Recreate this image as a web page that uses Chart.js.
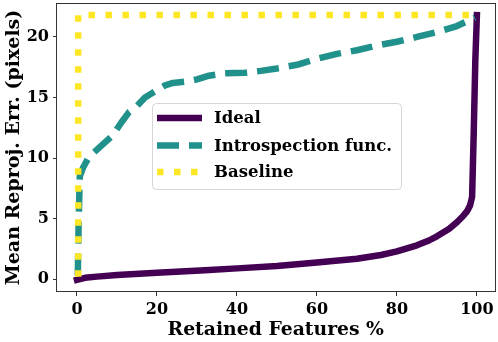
<!DOCTYPE html>
<html>
<head>
<meta charset="utf-8">
<script src="https://cdn.jsdelivr.net/npm/chart.js@4/dist/chart.umd.min.js"></script>
<style>
  html, body { margin: 0; padding: 0; background: #fff; }
  #wrap { width: 498px; height: 342px; position: relative; }
</style>
</head>
<body>
<div id="wrap"><canvas id="c" width="498" height="342"></canvas></div>
<script>
// ---- data ----
const seriesNames = ["Ideal", "Introspection func.", "Baseline"];

const idealX = [0, 2, 5, 10, 20, 32, 40, 50, 60, 70, 76, 80, 85, 88, 90, 93, 95, 96.5, 97.5, 98.3, 98.8, 99.2, 99.6, 100];
const idealY = [-0.05, 0.12, 0.22, 0.35, 0.53, 0.75, 0.9, 1.1, 1.38, 1.7, 2.0, 2.3, 2.8, 3.2, 3.55, 4.15, 4.7, 5.2, 5.6, 6.1, 6.8, 12.0, 18.0, 21.8];

const introX = [0.2, 0.4, 0.7, 1.5, 3, 5, 7, 9, 11, 13, 15, 17, 20, 22, 24, 27, 30, 33, 37, 42, 46, 50, 55, 60, 65, 70, 75, 80, 85, 90, 95, 99.5];
const introY = [0.3, 4.5, 8.5, 9.2, 10.1, 10.7, 11.3, 11.9, 12.9, 13.8, 14.3, 15.0, 15.6, 16.0, 16.2, 16.3, 16.5, 16.8, 17.0, 17.05, 17.2, 17.4, 17.7, 18.2, 18.6, 18.9, 19.3, 19.6, 20.0, 20.4, 20.9, 21.6];

const baselineX = [0.3, 0.3, 100];
const baselineY = [0.2, 21.8, 21.8];

const xTicks = [0, 20, 40, 60, 80, 100];
const yTicks = [0, 5, 10, 15, 20];
const xTitle = "Retained Features %";
const yTitle = "Mean Reproj. Err. (pixels)";

// ---- styling ----
const FONT = "'DejaVu Serif'";
const colors = ["#440154", "#21918c", "#fde725"];
const dashes = [[], [22, 10], [6.5, 10.5]];
const widths = [6.5, 6.5, 6.5];
const caps = ["square", "butt", "butt"];

function pts(xs, ys) { return xs.map((x, i) => ({ x: x, y: ys[i] })); }

const datasets = [
  { label: seriesNames[0], data: pts(idealX, idealY), order: 2 },
  { label: seriesNames[1], data: pts(introX, introY), order: 1 },
  { label: seriesNames[2], data: pts(baselineX, baselineY), order: 0 }
].map((d, i) => Object.assign(d, {
  borderColor: colors[i],
  backgroundColor: colors[i],
  borderWidth: widths[i],
  borderDash: dashes[i],
  borderCapStyle: caps[i],
  borderJoinStyle: "round",
  pointRadius: 0,
  tension: 0,
  fill: false
}));

const framePlugin = {
  id: "frame",
  afterDatasetsDraw(chart) {
    const { ctx, chartArea: a } = chart;
    ctx.save();
    ctx.strokeStyle = "#333";
    ctx.lineWidth = 1;
    ctx.strokeRect(Math.round(a.left) - 0.5, Math.round(a.top) + 0.5,
                   Math.round(a.right - a.left) + 1, Math.round(a.bottom - a.top) - 1);
    ctx.restore();
  }
};

const legendPlugin = {
  id: "insideLegend",
  afterDatasetsDraw(chart) {
    const ctx = chart.ctx;
    const bx = 152.5, by = 103.5, bw = 249, bh = 86, r = 4;
    ctx.save();
    ctx.beginPath();
    ctx.moveTo(bx + r, by);
    ctx.arcTo(bx + bw, by, bx + bw, by + bh, r);
    ctx.arcTo(bx + bw, by + bh, bx, by + bh, r);
    ctx.arcTo(bx, by + bh, bx, by, r);
    ctx.arcTo(bx, by, bx + bw, by, r);
    ctx.closePath();
    ctx.fillStyle = "rgba(255,255,255,0.8)";
    ctx.fill();
    ctx.strokeStyle = "rgba(204,204,204,0.8)";
    ctx.lineWidth = 1;
    ctx.stroke();
    const rows = [118, 145.5, 172];
    chart.data.datasets.forEach((ds, i) => {
      const y = rows[i];
      ctx.beginPath();
      ctx.setLineDash(ds.borderDash);
      ctx.lineCap = ds.borderCapStyle === "square" ? "butt" : ds.borderCapStyle;
      ctx.strokeStyle = ds.borderColor;
      ctx.lineWidth = ds.borderWidth;
      ctx.moveTo(157, y);
      ctx.lineTo(202, y);
      ctx.stroke();
      ctx.setLineDash([]);
      ctx.fillStyle = "#000";
      ctx.font = "bold 16.5px " + FONT;
      ctx.textBaseline = "middle";
      ctx.textAlign = "left";
      ctx.fillText(ds.label, 214, y + 1);
    });
    ctx.restore();
  }
};

function noPad(s) { s.paddingTop = 0; s.paddingBottom = 0; s.paddingLeft = 0; s.paddingRight = 0; }

new Chart(document.getElementById("c"), {
  type: "line",
  data: { datasets: datasets },
  plugins: [framePlugin, legendPlugin],
  options: {
    responsive: false,
    animation: false,
    devicePixelRatio: 1,
    layout: { padding: { left: 0, top: 3, right: 3.5, bottom: 0 } },
    plugins: { legend: { display: false }, tooltip: { enabled: false } },
    scales: {
      x: {
        type: "linear",
        min: -5, max: 104.4,
        afterBuildTicks(s) { s.ticks = xTicks.map(v => ({ value: v })); },
        afterFit(s) { s.height = 50; noPad(s); },
        grid: { display: true, drawOnChartArea: false, drawTicks: true, tickLength: 4, color: "#333" },
        border: { display: false },
        ticks: { color: "#000", padding: 4, maxRotation: 0, font: { family: FONT, size: 16, weight: "bold" } },
        title: { display: true, text: xTitle, color: "#000", padding: { top: 0, bottom: 1 }, font: { family: FONT, size: 18.8, weight: "bold" } }
      },
      y: {
        type: "linear",
        min: -1.05, max: 22.8,
        afterBuildTicks(s) { s.ticks = yTicks.map(v => ({ value: v })); },
        afterFit(s) { s.width = 57; noPad(s); },
        grid: { display: true, drawOnChartArea: false, drawTicks: true, tickLength: 4, color: "#333" },
        border: { display: false },
        ticks: { color: "#000", padding: 4, font: { family: FONT, size: 16, weight: "bold" } },
        title: { display: true, text: yTitle, color: "#000", padding: { top: 3, bottom: 0 }, font: { family: FONT, size: 19, weight: "bold" } }
      }
    }
  }
});
</script>
</body>
</html>
